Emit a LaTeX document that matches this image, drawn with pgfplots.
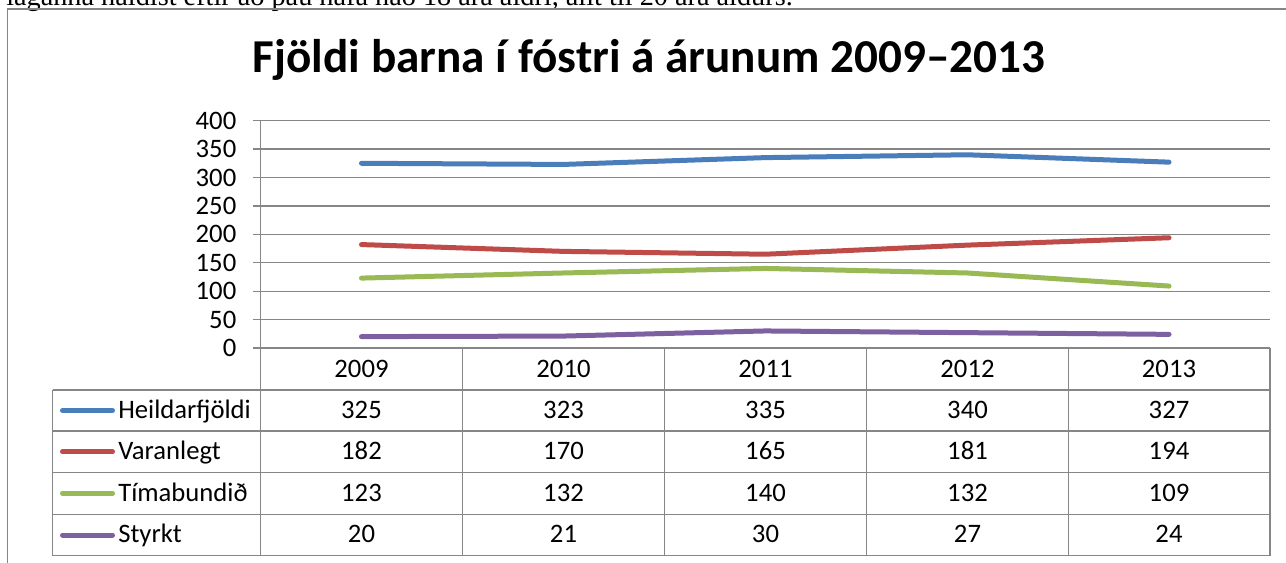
\documentclass[border=0pt]{standalone}
\usepackage{pgfplots}
\pgfplotsset{compat=1.18}
\usepackage{pgfplotstable}
\usepackage{fontspec}
\setmainfont{Carlito}
\newfontfamily\seriffont{Liberation Serif}
\definecolor{gridgray}{HTML}{868686}
\definecolor{cblue}{HTML}{4A7EBB}
\definecolor{cred}{HTML}{BE4B48}
\definecolor{cgreen}{HTML}{98B954}
\definecolor{cpurple}{HTML}{7D60A0}

\pgfplotstableread{
x heild varan tima styrkt
0 325 182 123 20
1 323 170 132 21
2 335 165 140 30
3 340 181 132 27
4 327 194 109 24
}\datatable

\newcommand\tabfont{\fontsize{20}{24}\selectfont}

\begin{document}
\begin{tikzpicture}
\useasboundingbox (0,0) rectangle (964.5pt,-422.25pt);
\clip (0,0) rectangle (964.5pt,-422.25pt);

\begin{scope}[x=0.75pt,y=-0.75pt]
\node[anchor=base west, inner sep=0pt, font=\seriffont\fontsize{21.2}{25}\selectfont] at (6,6) {laganna haldist eftir að þau hafa náð 18 ára aldri, allt til 20 ára aldurs.};
\draw[gridgray, line width=1pt] (7.5,9) rectangle (1300,620);
\node[anchor=base, inner sep=0pt, font=\fontsize{35.4}{42}\selectfont\bfseries] at (649,72.3) {Fjöldi barna í fóstri á árunum 2009–2013};

% table grid
\draw[gridgray, line width=1pt] (260.5,348) -- (1270,348);
\foreach \yy in {390,431,472.7,514.3,555.7}
  \draw[gridgray, line width=1pt] (52.7,\yy) -- (1270,\yy);
\draw[gridgray, line width=1pt] (52.7,390) -- (52.7,555.7);
\draw[gridgray, line width=1pt] (260.5,120.7) -- (260.5,555.7);
\foreach \xx in {462.5,664.3,866.5,1068.3,1270}
  \draw[gridgray, line width=1pt] (\xx,348) -- (\xx,555.7);

% header years
\foreach \xx/\yr in {361.5/2009,563.5/2010,765.5/2011,967.5/2012,1169/2013}
  \node[anchor=base, inner sep=0pt, font=\tabfont] at (\xx,377.3) {\yr};

% legend keys
\foreach \yy/\col/\lab in {410.5/cblue/Heildarfjöldi,451.8/cred/Varanlegt,493.3/cgreen/Tímabundið,535/cpurple/Styrkt}{
  \draw[\col, line width=3.75pt, line cap=round] (62.5,\yy) -- (112.5,\yy);
  \node[anchor=base west, inner sep=0pt, font=\tabfont] at (118,\yy+7.8) {\lab};
}

% values
\foreach \yy/\a/\b/\c/\d/\e in {418.3/325/323/335/340/327,459.6/182/170/165/181/194,501.1/123/132/140/132/109,542.8/20/21/30/27/24}{
  \node[anchor=base, inner sep=0pt, font=\tabfont] at (361.5,\yy) {\a};
  \node[anchor=base, inner sep=0pt, font=\tabfont] at (563.5,\yy) {\b};
  \node[anchor=base, inner sep=0pt, font=\tabfont] at (765.5,\yy) {\c};
  \node[anchor=base, inner sep=0pt, font=\tabfont] at (967.5,\yy) {\d};
  \node[anchor=base, inner sep=0pt, font=\tabfont] at (1169,\yy) {\e};
}
\end{scope}

\begin{axis}[
  at={(195.4pt,-261pt)}, anchor=south west,
  scale only axis, width=757.1pt, height=170.5pt,
  xmin=-0.5, xmax=4.5, ymin=0, ymax=400,
  xtick=\empty, ytick={0,50,...,400},
  ymajorgrids, grid style={gridgray, line width=1pt},
  axis line style={draw=none},
  tick align=outside, major tick length=6pt, tick pos=left,
  ytick style={gridgray, line width=1pt},
  yticklabel style={font=\tabfont, inner sep=0pt, anchor=east, xshift=-12pt},
  /pgf/number format/assume math mode=true,
  clip=false,
]
\addplot[cblue, line width=3.75pt, line cap=round, line join=round] table[x=x,y=heild] {\datatable};
\addplot[cred, line width=3.75pt, line cap=round, line join=round] table[x=x,y=varan] {\datatable};
\addplot[cgreen, line width=3.75pt, line cap=round, line join=round] table[x=x,y=tima] {\datatable};
\addplot[cpurple, line width=3.75pt, line cap=round, line join=round] table[x=x,y=styrkt] {\datatable};
\end{axis}

\begin{scope}[x=0.75pt,y=-0.75pt]
\fill[white] (1270.6,100) rectangle (1286,347);
\end{scope}
\end{tikzpicture}
\end{document}
